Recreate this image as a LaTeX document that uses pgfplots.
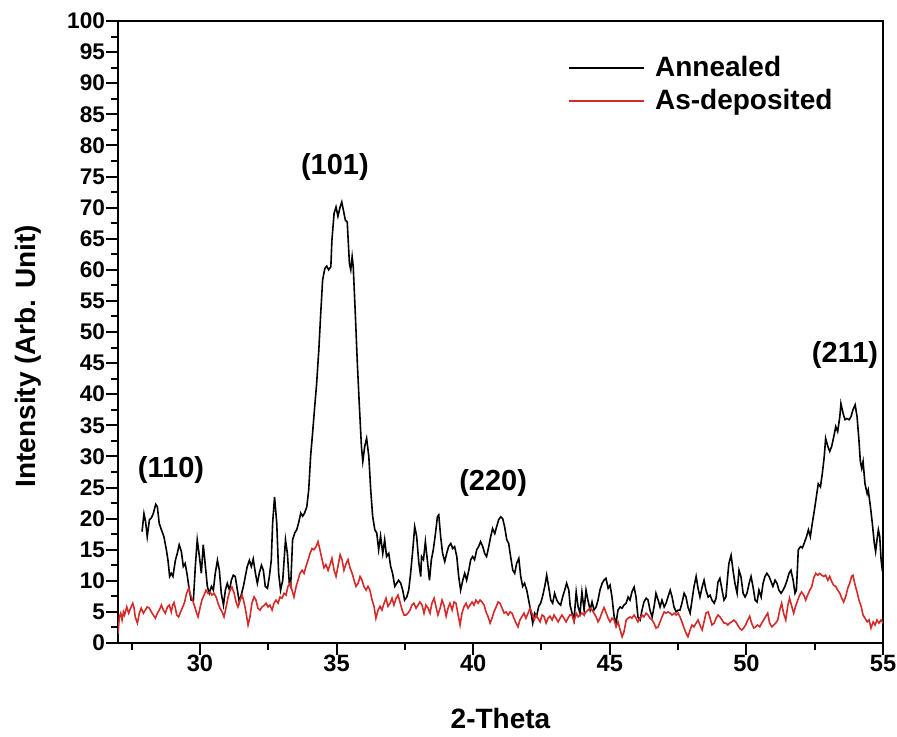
\documentclass[border=0pt]{standalone}
\usepackage{fontspec}
\setmainfont{Liberation Sans}
\usepackage{pgfplots}
\pgfplotsset{compat=1.18}
\definecolor{asdep}{HTML}{D42A2A}

\begin{document}
\begin{tikzpicture}
\begin{axis}[
  at={(0,0)}, anchor=south west,
  scale only axis, width=382.5pt, height=311pt,
  xmin=27, xmax=55, ymin=0, ymax=100,
  xtick={30,35,...,55}, minor xtick={27.5,32.5,...,52.5},
  ytick={0,5,...,100}, minor ytick={2.5,7.5,...,97.5},
  tick align=outside, xtick pos=left, ytick pos=left,
  major tick length=6pt, minor tick length=3.5pt,
  axis line style={line width=1pt},
  every tick/.style={black, line width=1pt},
  /pgf/number format/assume math mode=true,
  xticklabel style={font=\bfseries\fontsize{11.8}{13}\selectfont, yshift=3.5pt},
  yticklabel style={font=\bfseries\fontsize{11.3}{13}\selectfont, xshift=3pt},
  xlabel={2-Theta}, ylabel={Intensity (Arb. Unit)},
  xlabel style={font=\bfseries\fontsize{14}{16}\selectfont, at={(axis description cs:0.5,-0.1206)}, anchor=center},
  ylabel style={font=\bfseries\fontsize{14}{16}\selectfont, at={(axis description cs:-0.1176,0.461)}, anchor=center},
  legend style={draw=none, fill=none, at={(axis description cs:0.5805,0.957)}, anchor=north west,
    font=\bfseries\fontsize{14}{16}\selectfont, row sep=1pt},
  legend cell align=left,
  legend image code/.code={\draw[#1] (0pt,0pt) -- (37.5pt,0pt); \path (40.5pt,0pt);},
]
\addplot[black, line width=0.8pt] coordinates {
(27.88,17.9) (27.95,20.8) (28.01,19.5) (28.07,17.1) (28.15,19.8) (28.22,20.1) (28.29,20.8) (28.38,22.3) (28.44,21.9) (28.51,19.2)
(28.59,18.2) (28.68,17.1) (28.77,15.0) (28.83,13.3) (28.89,10.7) (28.95,11.2) (29.01,10.7) (29.10,13.3) (29.17,14.4) (29.24,15.8)
(29.32,14.7) (29.39,12.3) (29.46,12.8) (29.54,10.7) (29.61,8.5) (29.68,6.9) (29.76,6.9) (29.83,12.3) (29.90,16.6) (29.98,13.9)
(30.05,11.2) (30.12,15.8) (30.20,12.3) (30.27,9.1) (30.34,8.0) (30.42,9.1) (30.49,8.5) (30.56,11.2) (30.64,13.3) (30.71,11.7)
(30.78,8.0) (30.86,6.1) (30.93,8.5) (31.00,9.6) (31.08,8.5) (31.15,10.1) (31.22,10.9) (31.29,10.7) (31.37,8.5) (31.44,6.6)
(31.51,7.7) (31.59,9.1) (31.66,10.7) (31.73,12.3) (31.81,13.3) (31.88,12.3) (31.95,13.5) (32.03,11.2) (32.10,9.6) (32.17,11.2)
(32.25,12.5) (32.32,11.7) (32.39,9.1) (32.47,8.8) (32.54,10.7) (32.61,13.3) (32.66,19.3) (32.73,23.5) (32.81,19.3) (32.88,11.2)
(32.95,8.5) (33.03,10.1) (33.13,16.6) (33.20,14.4) (33.27,9.6) (33.32,9.1) (33.39,16.6) (33.47,17.7) (33.54,18.2) (33.61,19.3)
(33.69,20.9) (33.76,20.4) (33.83,20.9) (33.91,21.9) (33.98,24.6) (34.05,30.0) (34.13,34.2) (34.20,38.0) (34.27,41.7) (34.35,47.1)
(34.42,53.0) (34.49,58.4) (34.57,60.2) (34.64,60.6) (34.71,60.0) (34.79,60.5) (34.83,64.8) (34.91,69.1) (34.98,70.1) (35.05,68.6)
(35.13,70.1) (35.19,70.9) (35.25,69.6) (35.32,68.0) (35.39,67.7) (35.47,61.0) (35.52,60.0) (35.57,62.1) (35.61,60.5) (35.69,52.5)
(35.76,45.0) (35.83,38.5) (35.91,31.6) (35.96,29.2) (36.03,31.6) (36.10,32.9) (36.18,30.0) (36.25,24.6) (36.32,20.4) (36.40,18.2)
(36.47,17.7) (36.54,15.0) (36.61,17.2) (36.69,14.4) (36.76,16.6) (36.83,13.9) (36.91,14.4) (36.98,12.3) (37.05,11.2) (37.13,9.1)
(37.20,9.6) (37.27,10.1) (37.35,9.6) (37.42,8.5) (37.49,6.9) (37.57,7.4) (37.64,8.5) (37.71,11.2) (37.79,15.0) (37.86,18.7)
(37.93,17.2) (38.01,12.9) (38.08,10.7) (38.11,13.9) (38.18,13.4) (38.25,16.3) (38.32,13.4) (38.40,10.1) (38.47,13.4) (38.54,15.0)
(38.62,17.6) (38.69,20.3) (38.74,20.6) (38.81,17.1) (38.88,14.4) (38.96,13.1) (39.03,14.4) (39.10,15.5) (39.18,16.0) (39.25,15.2)
(39.32,15.5) (39.40,13.9) (39.47,10.7) (39.54,8.5) (39.62,10.1) (39.69,11.2) (39.76,10.1) (39.84,11.7) (39.91,13.4) (39.98,13.9)
(40.05,13.4) (40.13,15.0) (40.20,15.5) (40.27,16.3) (40.35,15.5) (40.42,14.4) (40.49,13.9) (40.57,15.5) (40.64,17.1) (40.71,18.4)
(40.79,17.6) (40.86,18.7) (40.93,19.8) (41.01,20.3) (41.08,20.0) (41.15,18.7) (41.23,16.6) (41.30,16.0) (41.37,13.9) (41.45,11.7)
(41.52,11.2) (41.59,12.8) (41.67,13.6) (41.74,10.7) (41.81,9.1) (41.88,9.6) (41.96,8.5) (42.03,6.9) (42.10,5.3) (42.18,3.2)
(42.25,4.8) (42.32,4.3) (42.40,5.9) (42.47,6.4) (42.54,7.5) (42.62,9.1) (42.69,10.9) (42.76,9.1) (42.84,6.9) (42.91,6.4)
(42.98,8.0) (43.06,6.9) (43.13,6.4) (43.20,6.1) (43.28,7.5) (43.35,8.5) (43.42,9.6) (43.50,8.5) (43.55,6.0) (43.62,4.8)
(43.69,3.7) (43.77,8.2) (43.84,5.8) (43.91,4.8) (43.98,8.2) (44.06,5.3) (44.13,8.5) (44.20,6.9) (44.28,5.3) (44.35,6.6)
(44.42,5.3) (44.50,5.8) (44.57,6.9) (44.64,8.5) (44.72,9.6) (44.79,10.1) (44.86,10.4) (44.94,8.8) (45.01,9.3) (45.08,7.4)
(45.16,4.2) (45.23,3.2) (45.30,5.3) (45.38,5.8) (45.45,5.6) (45.52,6.1) (45.60,6.4) (45.67,7.4) (45.74,6.9) (45.81,8.2)
(45.89,9.0) (45.96,7.4) (46.03,4.2) (46.11,3.7) (46.18,5.3) (46.25,6.6) (46.33,7.2) (46.40,6.9) (46.47,5.3) (46.55,4.2)
(46.62,5.8) (46.69,8.0) (46.77,6.9) (46.84,5.8) (46.91,6.9) (46.99,5.8) (47.06,6.4) (47.13,7.4) (47.21,8.5) (47.28,7.4)
(47.35,5.8) (47.43,5.0) (47.50,5.3) (47.57,5.3) (47.64,6.4) (47.72,8.0) (47.79,7.4) (47.86,5.8) (47.94,4.8) (48.01,6.9)
(48.08,9.0) (48.16,10.7) (48.23,8.8) (48.30,7.4) (48.38,9.0) (48.45,10.1) (48.52,8.5) (48.60,7.4) (48.67,7.7) (48.74,6.9)
(48.82,6.4) (48.89,7.2) (48.96,9.8) (49.03,10.4) (49.11,8.5) (49.18,6.9) (49.25,7.4) (49.32,11.0) (49.36,12.8) (49.44,14.1)
(49.51,11.7) (49.58,9.6) (49.66,8.0) (49.73,11.7) (49.80,10.7) (49.88,8.0) (49.95,7.4) (50.02,8.0) (50.10,9.6) (50.17,10.7)
(50.24,9.1) (50.32,6.9) (50.39,6.6) (50.46,8.5) (50.54,7.4) (50.61,9.6) (50.68,10.7) (50.75,11.2) (50.83,10.7) (50.90,9.9)
(50.97,9.1) (51.05,10.1) (51.12,9.6) (51.19,8.5) (51.27,8.0) (51.34,8.5) (51.41,9.1) (51.49,10.1) (51.56,11.2) (51.63,11.7)
(51.71,10.1) (51.78,8.0) (51.83,8.5) (51.90,15.0) (51.98,15.5) (52.05,15.3) (52.12,16.1) (52.20,17.1) (52.27,18.2) (52.34,17.1)
(52.41,19.2) (52.49,21.4) (52.56,23.5) (52.63,25.6) (52.71,25.1) (52.78,27.3) (52.85,30.0) (52.90,32.9) (52.98,31.6) (53.05,30.8)
(53.12,31.6) (53.20,33.2) (53.27,34.8) (53.34,34.0) (53.42,36.4) (53.46,38.5) (53.54,36.9) (53.61,35.9) (53.68,36.1) (53.76,35.9)
(53.83,36.4) (53.90,37.5) (53.98,38.3) (54.05,36.4) (54.12,32.6) (54.17,29.2) (54.22,28.1) (54.27,29.2) (54.34,25.6) (54.42,24.0)
(54.46,24.6) (54.54,21.9) (54.61,19.2) (54.68,16.1) (54.73,14.7) (54.78,16.6) (54.83,18.2) (54.88,17.1) (54.93,13.4) (54.98,11.5)
};
\addlegendentry{Annealed}
\addplot[asdep, line width=0.8pt] coordinates {
(27.00,1.5) (27.05,4.2) (27.10,4.8) (27.15,3.7) (27.20,5.0) (27.24,4.5) (27.32,5.8) (27.39,4.8) (27.46,5.6) (27.54,6.4)
(27.59,5.6) (27.63,4.2) (27.71,3.2) (27.78,4.8) (27.85,5.6) (27.93,4.8) (28.00,5.3) (28.07,5.8) (28.15,5.6) (28.22,5.0)
(28.29,4.5) (28.37,4.0) (28.44,4.8) (28.51,5.3) (28.59,6.1) (28.66,5.3) (28.73,4.8) (28.81,5.8) (28.88,6.1) (28.95,5.0)
(29.00,6.1) (29.05,6.5) (29.10,5.6) (29.15,4.5) (29.22,4.2) (29.29,5.0) (29.37,5.8) (29.44,6.6) (29.51,8.0) (29.59,8.8)
(29.66,7.7) (29.73,6.9) (29.81,5.8) (29.88,4.8) (29.93,4.2) (30.00,5.6) (30.07,6.9) (30.15,7.7) (30.22,8.5) (30.29,8.0)
(30.37,8.2) (30.44,7.7) (30.51,8.0) (30.59,7.4) (30.66,6.4) (30.73,5.6) (30.81,5.0) (30.88,4.2) (30.95,5.6) (31.03,7.4)
(31.10,8.5) (31.17,9.0) (31.25,8.0) (31.32,6.6) (31.39,5.8) (31.47,6.9) (31.54,7.7) (31.61,6.6) (31.69,4.8) (31.76,2.9)
(31.83,4.2) (31.90,6.4) (31.98,7.4) (32.05,6.9) (32.12,5.6) (32.20,5.3) (32.27,5.8) (32.34,6.0) (32.42,6.4) (32.49,5.8)
(32.56,6.1) (32.64,5.3) (32.71,6.4) (32.78,6.9) (32.86,6.4) (32.93,7.4) (33.00,7.2) (33.08,8.0) (33.15,7.7) (33.22,9.1)
(33.30,9.6) (33.37,8.5) (33.44,7.4) (33.52,9.1) (33.59,10.1) (33.66,11.2) (33.74,11.7) (33.81,11.2) (33.88,12.3) (33.96,13.4)
(34.03,14.4) (34.10,15.2) (34.17,15.0) (34.25,15.5) (34.32,16.3) (34.39,15.0) (34.47,13.4) (34.54,12.1) (34.61,12.6) (34.69,11.7)
(34.76,12.6) (34.83,13.6) (34.91,11.7) (34.98,10.7) (35.05,12.3) (35.13,14.2) (35.20,13.4) (35.27,11.7) (35.35,12.8) (35.42,13.4)
(35.49,12.1) (35.57,11.2) (35.64,10.1) (35.71,9.1) (35.79,9.6) (35.86,10.7) (35.93,10.1) (36.00,9.1) (36.08,8.5) (36.15,9.1)
(36.22,8.5) (36.30,6.9) (36.37,5.9) (36.44,4.0) (36.52,5.3) (36.59,5.9) (36.66,5.3) (36.74,6.4) (36.81,7.2) (36.88,5.9)
(36.96,6.4) (37.03,7.2) (37.10,6.1) (37.18,7.2) (37.25,7.7) (37.32,6.6) (37.40,5.3) (37.47,4.5) (37.54,4.5) (37.61,4.8)
(37.69,5.3) (37.76,6.1) (37.83,6.4) (37.91,5.6) (37.98,6.1) (38.05,6.6) (38.13,6.1) (38.20,4.8) (38.27,6.1) (38.35,5.6)
(38.42,4.8) (38.49,6.4) (38.57,7.2) (38.64,5.8) (38.71,4.5) (38.79,5.6) (38.86,6.9) (38.93,6.1) (39.01,4.3) (39.08,5.6)
(39.15,6.4) (39.23,5.3) (39.30,6.6) (39.37,6.4) (39.45,4.5) (39.52,2.9) (39.59,4.8) (39.66,5.8) (39.74,6.4) (39.81,5.6)
(39.88,6.1) (39.96,6.6) (40.03,6.1) (40.10,6.9) (40.18,6.4) (40.25,6.9) (40.32,6.6) (40.40,6.1) (40.47,5.0) (40.54,4.3)
(40.62,3.2) (40.69,4.0) (40.76,5.0) (40.84,5.8) (40.91,6.6) (40.98,6.4) (41.06,5.6) (41.13,4.8) (41.20,5.0) (41.28,4.5)
(41.35,5.0) (41.42,4.8) (41.49,4.0) (41.57,3.2) (41.64,2.6) (41.71,3.7) (41.79,4.3) (41.86,4.8) (41.93,4.0) (42.01,4.8)
(42.08,5.6) (42.15,4.8) (42.23,3.7) (42.30,4.5) (42.37,4.0) (42.45,3.4) (42.52,4.5) (42.59,4.3) (42.67,3.2) (42.74,4.0)
(42.81,4.3) (42.89,3.7) (42.96,4.5) (43.03,4.0) (43.11,3.4) (43.18,4.0) (43.25,4.5) (43.32,4.0) (43.40,3.4) (43.47,4.0)
(43.54,4.5) (43.62,4.5) (43.69,3.4) (43.77,4.8) (43.84,4.2) (43.91,4.5) (43.98,4.8) (44.06,4.5) (44.13,5.0) (44.20,5.3)
(44.28,5.6) (44.35,5.3) (44.42,4.8) (44.50,4.2) (44.57,3.4) (44.64,4.0) (44.72,5.0) (44.79,5.7) (44.86,4.9) (44.94,4.0)
(45.01,3.4) (45.08,4.0) (45.16,3.7) (45.23,2.6) (45.30,3.4) (45.38,2.1) (45.45,1.0) (45.52,1.8) (45.60,3.7) (45.67,4.0)
(45.74,4.2) (45.81,4.0) (45.89,4.5) (45.96,4.0) (46.03,3.4) (46.11,4.0) (46.18,4.5) (46.25,4.2) (46.33,4.8) (46.40,4.5)
(46.47,4.0) (46.55,3.7) (46.62,3.2) (46.69,2.4) (46.77,2.6) (46.84,3.4) (46.91,4.2) (46.99,5.0) (47.06,4.8) (47.13,5.0)
(47.21,4.8) (47.28,4.5) (47.35,4.8) (47.43,4.5) (47.50,4.8) (47.57,4.2) (47.64,3.4) (47.72,2.4) (47.79,1.6) (47.86,1.0)
(47.94,2.1) (48.01,2.9) (48.08,2.6) (48.16,3.2) (48.23,3.7) (48.30,2.9) (48.38,2.1) (48.45,3.4) (48.52,4.8) (48.60,5.0)
(48.67,4.0) (48.74,2.9) (48.82,3.2) (48.89,4.0) (48.96,4.5) (49.03,4.2) (49.11,3.7) (49.18,3.2) (49.25,3.2) (49.32,2.9)
(49.39,3.2) (49.46,3.4) (49.54,3.7) (49.61,3.4) (49.68,2.9) (49.75,2.4) (49.83,2.1) (49.90,2.4) (49.97,2.9) (50.05,3.7)
(50.12,4.3) (50.19,3.2) (50.27,2.4) (50.34,2.6) (50.41,2.9) (50.49,2.6) (50.56,3.2) (50.63,3.7) (50.71,4.3) (50.78,4.8)
(50.85,3.2) (50.93,2.6) (51.00,2.9) (51.07,3.2) (51.15,3.7) (51.22,5.3) (51.29,6.4) (51.36,4.8) (51.44,3.7) (51.51,5.9)
(51.58,7.2) (51.66,5.9) (51.73,4.8) (51.80,5.9) (51.88,6.9) (51.95,7.7) (52.02,8.2) (52.10,7.7) (52.17,6.9) (52.24,7.7)
(52.32,8.5) (52.39,9.0) (52.46,10.4) (52.54,11.2) (52.61,10.9) (52.68,11.2) (52.76,10.9) (52.83,10.7) (52.90,10.9) (52.98,10.1)
(53.05,10.7) (53.12,9.9) (53.19,9.3) (53.27,9.1) (53.34,8.5) (53.42,8.0) (53.49,7.2) (53.56,6.6) (53.63,7.4) (53.71,8.8)
(53.78,9.6) (53.85,10.7) (53.90,10.9) (53.98,9.3) (54.05,8.2) (54.12,6.9) (54.20,5.9) (54.27,4.5) (54.34,4.0) (54.42,3.4)
(54.49,3.7) (54.56,2.4) (54.64,3.4) (54.71,2.9) (54.78,3.7) (54.85,3.2) (54.93,3.7) (55.00,3.2)
};
\addlegendentry{As-deposited}
\node[font=\bfseries\fontsize{14.5}{16}\selectfont] at (axis cs:28.94,27.8) {(110)};
\node[font=\bfseries\fontsize{14.5}{16}\selectfont] at (axis cs:34.94,76.5) {(101)};
\node[font=\bfseries\fontsize{14.5}{16}\selectfont] at (axis cs:40.73,25.7) {(220)};
\node[font=\bfseries\fontsize{14.5}{16}\selectfont] at (axis cs:53.61,46.3) {(211)};
\end{axis}
\pgfresetboundingbox
\path (-59pt,-46.5pt) rectangle (389.5pt,321.5pt);
\end{tikzpicture}
\end{document}
